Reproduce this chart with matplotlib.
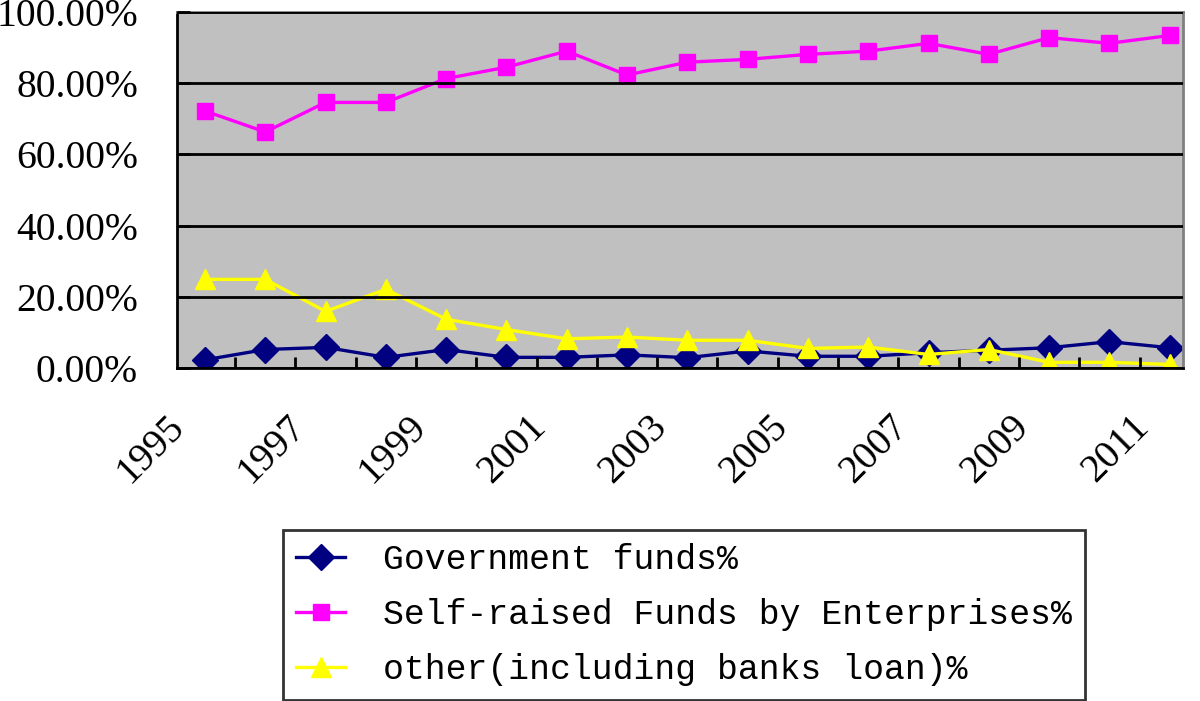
import numpy as np
import matplotlib
matplotlib.use("Agg")
import matplotlib.pyplot as plt
import matplotlib.transforms as mtransforms

# Data
years = list(range(1995, 2012))
government = [2.3, 5.2, 5.8, 3.0, 5.2, 3.0, 3.0, 3.7, 2.9, 4.8, 3.3, 3.3, 4.3, 5.0, 5.7, 7.4, 5.7]
self_raised = [72.2, 66.3, 74.6, 74.6, 81.3, 84.5, 89.0, 82.3, 85.9, 86.7, 88.1, 89.0, 91.2, 88.1, 92.8, 91.2, 93.4]
other = [24.9, 24.9, 15.9, 22.1, 13.7, 10.8, 8.2, 8.7, 7.8, 7.8, 5.5, 5.9, 3.8, 5.2, 1.6, 1.6, 1.0]

labels = ["Government funds%", "Self-raised Funds by Enterprises%", "other(including banks loan)%"]

fig = plt.figure(figsize=(12, 7.01), dpi=100)
ax = fig.add_axes([0.1475, 0.475, 0.8383, 0.5079])
ax.set_facecolor("#C0C0C0")

x = np.arange(len(years))
ax.plot(x, government, color="#000080", marker="D", markersize=13, linewidth=2.4, label=labels[0])
ax.plot(x, self_raised, color="#FF00FF", marker="s", markersize=12, linewidth=2.4, label=labels[1])
ax.plot(x, other, color="#FFFF00", marker="^", markersize=14, linewidth=2.4, label=labels[2])

ax.set_xlim(-0.464, 16.22)
ax.set_ylim(0, 100)

# y axis
yt = [0, 20, 40, 60, 80, 100]
ax.set_yticks(yt)
ax.set_yticklabels([f"{v:.2f}%" for v in yt], family="Liberation Serif", fontsize=28.5)
ax.tick_params(axis="y", direction="in", length=9, width=2, pad=28)
ax.grid(axis="y", color="black", linewidth=2)
ax.set_axisbelow(False)

# x axis: labels every other year, ticks between categories
ax.set_xticks(x[::2])
ax.set_xticklabels([str(y) for y in years[::2]], family="Liberation Serif", fontsize=28.5,
                   rotation=45, ha="right", rotation_mode="anchor")
ax.set_xticks(x[:-1] + 0.5, minor=True)
ax.tick_params(axis="x", which="major", length=0, pad=29)
ax.tick_params(axis="x", which="minor", direction="in", length=8, width=2)
offset = mtransforms.ScaledTranslation(-39 / 100, 0, fig.dpi_scale_trans)
for lbl in ax.get_xticklabels():
    lbl.set_transform(lbl.get_transform() + offset)

for side in ["left", "bottom"]:
    ax.spines[side].set_color("black")
    ax.spines[side].set_linewidth(2)
for side in ["top", "right"]:
    ax.spines[side].set_color("#808080")
    ax.spines[side].set_linewidth(2)

leg = fig.legend(loc="lower left", bbox_to_anchor=(0.236, 0.002), prop={"family": "Liberation Mono", "size": 25},
                 frameon=True, fancybox=False, edgecolor="black", handlelength=1.4, handletextpad=1.1,
                 labelspacing=0.64, borderpad=0.38, borderaxespad=0)
leg.get_frame().set_linewidth(2)

plt.savefig("out.png", dpi=100)
